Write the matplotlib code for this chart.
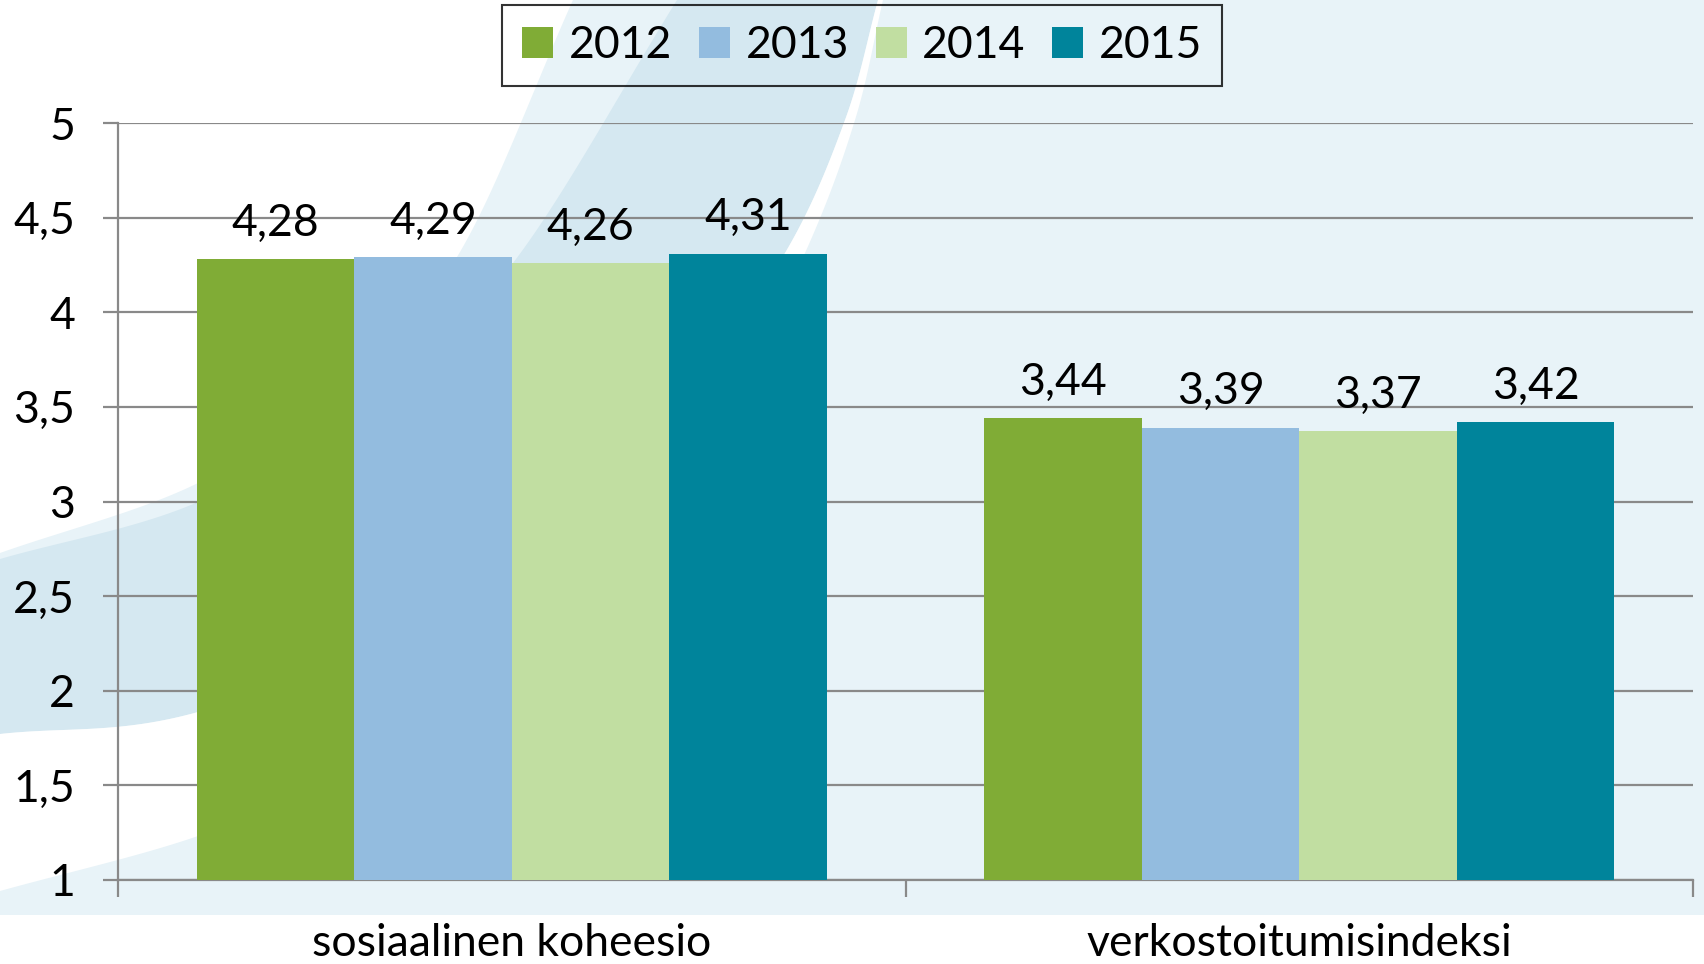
import numpy as np
import matplotlib
matplotlib.use("Agg")
import matplotlib.pyplot as plt

plt.rcParams['font.family'] = ['Lato', 'DejaVu Sans']

# data
categories = ["sosiaalinen koheesio", "verkostoitumisindeksi"]
years = ["2012", "2013", "2014", "2015"]
v2012 = [4.28, 3.44]
v2013 = [4.29, 3.39]
v2014 = [4.26, 3.37]
v2015 = [4.31, 3.42]
colors = ["#80AC36", "#93BCDF", "#C1DEA1", "#00849B"]
yticks = [1, 1.5, 2, 2.5, 3, 3.5, 4, 4.5, 5]
ytick_labels = ["1", "1,5", "2", "2,5", "3", "3,5", "4", "4,5", "5"]

W, H = 1704, 964
grey = "#898989"
light = "#E8F3F8"
dark = "#D5E8F1"
fs = 32


def smooth(pts, n=40):
    # catmull-rom through the points
    pts = np.asarray(pts, float)
    p = np.vstack([2 * pts[0] - pts[1], pts, 2 * pts[-1] - pts[-2]])
    t = np.linspace(0, 1, n)[:, None]
    out = []
    for i in range(1, len(p) - 2):
        p0, p1, p2, p3 = p[i - 1], p[i], p[i + 1], p[i + 2]
        seg = 0.5 * (2 * p1 + (-p0 + p2) * t + (2 * p0 - 5 * p1 + 4 * p2 - p3) * t ** 2
                     + (-p0 + 3 * p1 - 3 * p2 + p3) * t ** 3)
        out.append(seg)
    return np.vstack(out)


fig = plt.figure(figsize=(W / 100, H / 100), dpi=100)

# background swoosh
bg = fig.add_axes([0, 0, 1, 1], zorder=0)
bg.set_xlim(0, W)
bg.set_ylim(H, 0)
bg.axis('off')
o1 = smooth([(573, 0), (457, 257), (340, 385), (198, 483), (0, 553)])
o2 = smooth([(677, 0), (513, 263), (372, 398), (198, 502), (0, 559)])
i1 = smooth([(878, 0), (845, 120), (785, 253), (680, 400), (480, 600), (198, 712), (0, 734)])
i2 = smooth([(883, 0), (855, 120), (805, 253), (720, 420), (520, 640), (350, 770), (198, 836), (0, 891)])
bg.fill([0, W, W, 0], [0, 0, 915, 915], color=light, lw=0)
white_top = np.vstack([[(0, 0)], o1])
bg.fill(white_top[:, 0], white_top[:, 1], color="white", lw=0)
band = np.vstack([o2, i1[::-1]])
bg.fill(band[:, 0], band[:, 1], color=dark, lw=0)
crescent = np.vstack([i1, i2[::-1]])
bg.fill(crescent[:, 0], crescent[:, 1], color="white", lw=0)

# chart
ax = fig.add_axes([118 / W, 1 - 880 / H, (1693 - 118) / W, (880 - 123) / H], zorder=1)
ax.patch.set_alpha(0)

x = np.arange(len(categories))
width = 0.2
series = [v2012, v2013, v2014, v2015]
for i, (yr, vals, c) in enumerate(zip(years, series, colors)):
    pos = x + (i - 1.5) * width
    ax.bar(pos, vals, width, color=c, label=yr, zorder=3)
    for px, v in zip(pos, vals):
        ax.annotate(("%.2f" % v).replace(".", ","), (px, v), xytext=(0, 11),
                    textcoords="offset points", ha="center", va="bottom", fontsize=fs)

ax.set_xlim(-0.5, 1.5)
ax.set_ylim(1, 5)
ax.set_yticks(yticks)
ax.set_yticklabels(ytick_labels, fontsize=fs)
ax.yaxis.grid(True, color=grey, lw=1.6, zorder=1)
ax.set_axisbelow(True)
ax.tick_params(axis='y', length=11, width=1.6, color=grey, pad=20)

ax.set_xticks(x)
ax.set_xticklabels(categories, fontsize=fs)
ax.tick_params(axis='x', which='major', length=0, pad=31)
ax.set_xticks([-0.5, 0.5, 1.5], minor=True)
ax.tick_params(axis='x', which='minor', length=12, width=1.6, color=grey)

for s in ["top", "right"]:
    ax.spines[s].set_visible(False)
for s in ["left", "bottom"]:
    ax.spines[s].set_color(grey)
    ax.spines[s].set_linewidth(1.6)

leg = fig.legend(loc="upper center", bbox_to_anchor=(0.506, 0.995), ncol=4, fontsize=fs,
                 frameon=True, fancybox=False, edgecolor="black", facecolor="none",
                 handlelength=0.7, handleheight=0.7, handletextpad=0.35,
                 columnspacing=0.6, borderpad=0.45, borderaxespad=0)
leg.get_frame().set_linewidth(1.5)

fig.savefig("out.png", dpi=100)
